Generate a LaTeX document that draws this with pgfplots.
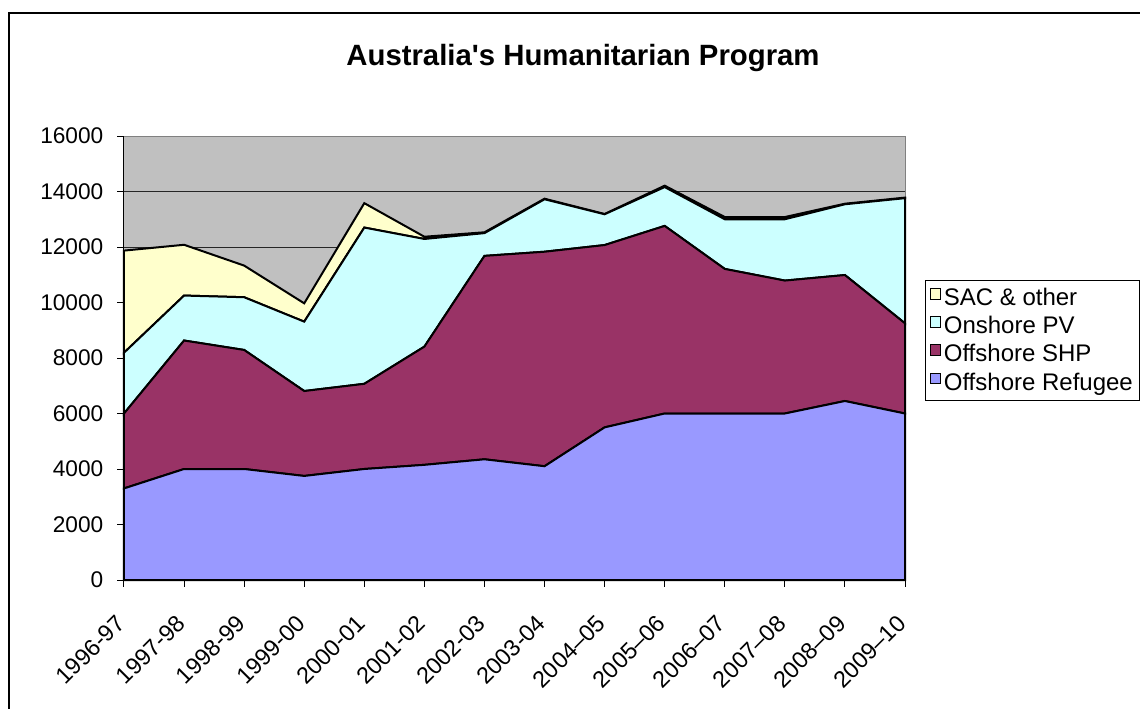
\documentclass[border=0pt]{standalone}
\usepackage{pgfplots}
\pgfplotsset{compat=1.18}
\usepackage{pgfplotstable}
\usepackage{fontspec}
\setmainfont{Liberation Sans}

\definecolor{refugee}{HTML}{9999FF}
\definecolor{shp}{HTML}{993366}
\definecolor{pv}{HTML}{CCFFFF}
\definecolor{sac}{HTML}{FFFFCC}
\definecolor{plotgray}{HTML}{C0C0C0}

\newcommand{\tickfont}{\fontsize{17}{20}\selectfont}

% i ref shp pv sac
\pgfplotstableread{
i ref  shp  pv   sac
0  3300 2700 2190 3680
1  4000 4630 1620 1830
2  4000 4290 1900 1140
3  3750 3060 2500 660
4  4000 3070 5630 880
5  4150 4260 3880 80
6  4350 7330 820  30
7  4100 7730 1890 20
8  5500 6570 1110 10
9  6000 6760 1400 50
10 6000 5210 1790 80
11 6000 4790 2210 80
12 6450 4540 2550 20
13 6000 3250 4510 20
}\data

\begin{document}
\begin{tikzpicture}
\clip (0,0) rectangle (855pt,531pt);
\draw[black, line width=1.5pt] (6.75pt,-20pt) rectangle (900pt,521.25pt);
\node[font=\fontsize{22}{26}\selectfont\bfseries] at (437.25pt,487.5pt) {Australia\textquotesingle s Humanitarian Program};
\begin{axis}[
    at={(93pt,96pt)}, anchor=south west,
    scale only axis, width=585.75pt, height=333pt,
    stack plots=y, no markers, clip=false,
    xmin=0, xmax=13, ymin=0, ymax=16000,
    xtick={0,...,13},
    xticklabels={1996-97,1997-98,1998-99,1999-00,2000-01,2001-02,2002-03,2003-04,2004--05,2005--06,2006--07,2007--08,2008--09,2009--10},
    ytick={0,2000,...,16000},
    scaled y ticks=false,
    tick pos=left, tick align=outside,
    major tick length=5pt,
    tick style={black, line width=0.75pt},
    ymajorgrids, major grid style={black!85, line width=0.75pt},
    axis background/.style={fill=plotgray},
    axis line style={black!50, line width=0.75pt},
    /pgf/number format/1000 sep={},
    /pgf/number format/assume math mode=true,
    yticklabel style={font=\tickfont, xshift=-7pt},
    xticklabel style={font=\fontsize{17.5}{20}\selectfont, xshift=0pt, yshift=-22pt, rotate=45, anchor=east},
    reverse legend,
    legend cell align=left,
    legend style={at={(axis description cs:1.0256,0.6757)}, anchor=north west,
        draw=black, line width=0.75pt, fill=white,
        font=\fontsize{18}{20}\selectfont, row sep=2.5pt,
        inner xsep=3pt, inner ysep=4pt},
    legend image code/.code={\draw[#1, line width=0.75pt] (0pt,-1pt) rectangle (8pt,7pt);},
]
\addplot[fill=refugee, draw=black, line width=1.5pt] table[x=i, y=ref]{\data} \closedcycle;
\addlegendentry{Offshore Refugee}
\addplot[fill=shp, draw=black, line width=1.5pt] table[x=i, y=shp]{\data} \closedcycle;
\addlegendentry{Offshore SHP}
\addplot[fill=pv, draw=black, line width=1.5pt] table[x=i, y=pv]{\data} \closedcycle;
\addlegendentry{Onshore PV}
\addplot[fill=sac, draw=black, line width=1.5pt] table[x=i, y=sac]{\data} \closedcycle;
\addlegendentry{SAC \& other}
\draw[black, line width=0.75pt] (rel axis cs:0,1) -- (rel axis cs:0,0) -- (rel axis cs:1,0);
\end{axis}
\end{tikzpicture}
\end{document}
